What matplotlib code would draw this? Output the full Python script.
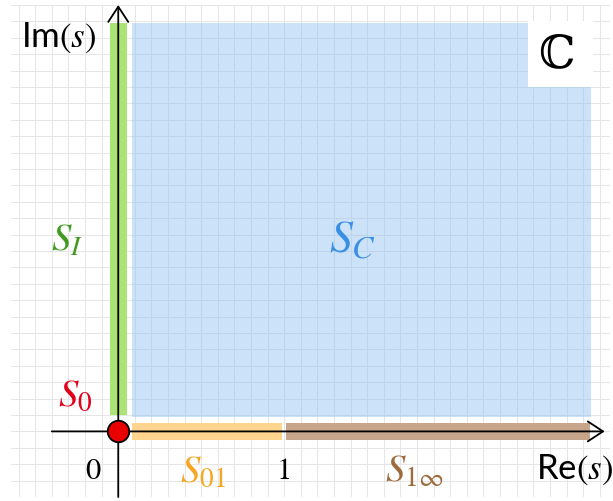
import matplotlib
matplotlib.use("Agg")
import matplotlib.pyplot as plt
import numpy as np
from matplotlib.patches import Rectangle

plt.rcParams['mathtext.fontset'] = 'stix'
plt.rcParams['font.family'] = ['Lato', 'DejaVu Sans']

# Regions of the complex plane (data units, 1 = the "1" on Re axis)
s_i_re = [-0.05, 0.05]
s_i_im = [0.10, 2.49]
s_c_re = [0.08, 2.85]
s_c_im = [0.085, 2.49]
s01_re = [0.08, 0.985]
s1inf_re = [1.01, 2.84]
band_im = [-0.05, 0.05]
cbox_re = [2.47, 2.86]
cbox_im = [2.10, 2.50]

# colours
c_green = '#aae476'
c_blue = (0.55, 0.75, 0.95)
c_orange = '#ffd48e'
c_brown = '#c7a58b'

fig = plt.figure(figsize=(6.13, 5.01), dpi=100)
ax = fig.add_axes([11/613, 4/501, 599/613, 492/501])
ax.set_xlim(-0.646, 2.962)
ax.set_ylim(-0.4, 2.6)

# background grid
ax.set_axisbelow(True)
ax.set_xticks(np.arange(-0.6, 2.96, 0.1))
ax.set_yticks(np.arange(-0.4, 2.61, 0.1))
ax.grid(True, color='#e6e6e6', lw=0.75)
ax.tick_params(length=0, labelbottom=False, labelleft=False)
for sp in ax.spines.values():
    sp.set_visible(False)

# S_C (blue) with white box for C
ax.add_patch(Rectangle((s_c_re[0], s_c_im[0]), s_c_re[1]-s_c_re[0], s_c_im[1]-s_c_im[0],
                       fc=c_blue, alpha=0.45, lw=0, zorder=1))
ax.add_patch(Rectangle((cbox_re[0], cbox_im[0]), cbox_re[1]-cbox_re[0], cbox_im[1]-cbox_im[0],
                       fc='white', lw=0, zorder=1.5))
# S_I (green)
ax.add_patch(Rectangle((s_i_re[0], s_i_im[0]), s_i_re[1]-s_i_re[0], s_i_im[1]-s_i_im[0],
                       fc=c_green, lw=0, zorder=2))
# S_01 and S_1inf
ax.add_patch(Rectangle((s01_re[0], band_im[0]), s01_re[1]-s01_re[0], band_im[1]-band_im[0],
                       fc=c_orange, lw=0, zorder=2))
ax.add_patch(Rectangle((s1inf_re[0], band_im[0]), s1inf_re[1]-s1inf_re[0], band_im[1]-band_im[0],
                       fc=c_brown, lw=0, zorder=2))

# axes with arrows
astyle = dict(arrowstyle='->,head_length=0.55,head_width=0.36', lw=1.3, color='black',
              mutation_scale=20, shrinkA=0, shrinkB=0)
ax.annotate('', xy=(2.93, 0), xytext=(-0.40, 0), arrowprops=astyle, zorder=3)
ax.annotate('', xy=(0, 2.6), xytext=(0, -0.40), arrowprops=astyle, zorder=3)

# S_0 point
ax.plot([0], [0], 'o', ms=15.5, mfc='#e80000', mec='black', mew=1.3, zorder=5, clip_on=False)

# labels
ax.text(-0.13, 2.40, r'Im$(s)$', fontsize=25, ha='right', va='center', zorder=6)
ax.text(2.98, -0.234, r'Re$(s)$', fontsize=25, ha='right', va='center', zorder=6, clip_on=False)
ax.text(-0.15, -0.234, r'$0$', fontsize=22, ha='center', va='center', zorder=6)
ax.text(0.99, -0.234, r'$1$', fontsize=22, ha='center', va='center', zorder=6)
ax.text(0.51, -0.24, r'$S_{01}$', fontsize=28, color='#f5a623', ha='center', va='center', zorder=6)
ax.text(1.78, -0.24, r'$S_{1\infty}$', fontsize=28, color='#9e6b3d', ha='center', va='center', zorder=6)
ax.text(-0.26, 0.22, r'$S_0$', fontsize=28, color='#e0001b', ha='center', va='center', zorder=6)
ax.text(-0.31, 1.17, r'$S_I$', fontsize=28, color='#3f9a1e', ha='center', va='center', zorder=6)
ax.text(1.41, 1.17, r'$S_C$', fontsize=33, color='#3a8ee3', ha='center', va='center', zorder=6)
ax.text(2.64, 2.30, '\u2102', fontsize=33, family='DejaVu Serif', ha='center', va='center', zorder=6)

fig.savefig('out.png', dpi=100)
